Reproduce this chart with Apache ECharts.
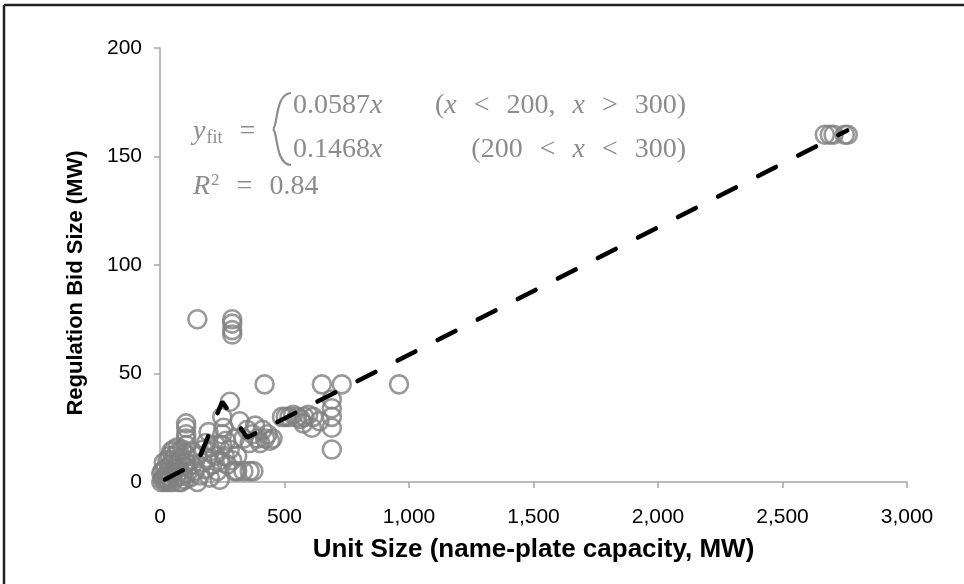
<!DOCTYPE html>
<html>
<head>
<meta charset="utf-8">
<script src="https://cdn.jsdelivr.net/npm/echarts@6/dist/echarts.min.js"></script>
<style>
html,body{margin:0;padding:0;background:#fff;}
#chart{width:964px;height:584px;}
</style>
</head>
<body>
<div id="chart"></div>
<script>
// unit size (MW) per bid
const unitSize = [
    2670, 2690, 2705, 2750, 2762,
    150, 290, 290, 290, 290, 420, 650, 730, 960, 281,
    690, 690, 690, 690, 690, 610,
    490, 505, 520, 535, 550, 565, 580, 595, 615, 640, 575,
    320, 335, 350, 360, 372, 382, 392, 402, 412, 422, 432, 442, 452, 310, 335, 360, 375,
    120, 130, 140, 150, 160, 170, 175, 180, 190, 195, 200, 200, 150, 130, 210, 220, 230,
    240, 240, 250, 250, 250, 255, 260, 270, 280, 290, 300, 300, 310, 265, 225, 185,
    105, 105, 105, 105, 105,
    5, 10, 15, 20, 25, 30, 35, 40, 45, 50, 50, 55, 60, 60, 65, 70, 75, 75, 80,
    85, 90, 95, 100, 100, 105, 110, 20, 30, 40, 10, 70, 90, 45, 15, 5, 35, 85, 55
];
// regulation bid size (MW), same order
const bidSize = [
    160, 160, 160, 160, 160,
    75, 75, 73, 70, 68, 45, 45, 45, 45, 37,
    38, 34, 30, 25, 15, 25,
    30, 30, 30, 31, 30, 29, 30, 31, 30, 28, 27,
    28, 20, 24, 18, 22, 26, 20, 18, 24, 20, 22, 19, 20, 5, 5, 5, 5,
    2, 8, 5, 12, 3, 9, 15, 6, 11, 23, 2, 14, 0, 14, 8, 12, 5,
    10, 1, 30, 22, 17, 25, 12, 8, 15, 10, 5, 20, 12, 19, 17, 18,
    17, 20, 22, 25, 27,
    0, 1, 2, 0, 3, 1, 5, 2, 8, 0, 10, 4, 6, 12, 2, 9, 0, 14, 5,
    11, 3, 7, 1, 13, 9, 4, 6, 10, 12, 5, 16, 15, 14, 9, 4, 0, 0, 15
];
// vertices of the piecewise fit line
const fitX = [20, 150, 250, 350, 2760];
const fitY = [1.2, 8.8, 37, 20.5, 162];

const points = unitSize.map((x, i) => [x, bidSize[i]]);
const fitLine = fitX.map((x, i) => [x, fitY[i]]);

const axisGrey = '#a6a6a6';
const eqGrey = '#8c8c8c';
const serif = 'Liberation Serif';
const eqSize = 28;

// rich styles for the equation: n = upright, i = italic, sp = wide math space
const eqRich = {
    n: { fontFamily: serif, fontSize: eqSize, fill: eqGrey },
    i: { fontFamily: serif, fontStyle: 'italic', fontSize: eqSize, fill: eqGrey },
    sp: { fontFamily: serif, fontSize: eqSize, width: 17 },
    sub: { fontFamily: serif, fontSize: 18, fill: eqGrey, padding: [12, 0, 0, 1] },
    sup: { fontFamily: serif, fontSize: 17, fill: eqGrey, padding: [0, 0, 12, 1] }
};
const braceStyle = { fill: null, stroke: eqGrey, lineWidth: 2.2 };

let chart = echarts.init(document.getElementById('chart'));
let option = {
    backgroundColor: '#fff',
    animation: false,
    grid: {
        left: 160,
        right: 57,
        top: 48,
        bottom: 102
    },
    xAxis: {
        type: 'value',
        min: 0,
        max: 3000,
        interval: 500,
        name: 'Unit Size (name-plate capacity, MW)',
        nameLocation: 'middle',
        nameGap: 55,
        nameTextStyle: {
            color: '#000',
            fontFamily: 'Liberation Sans',
            fontWeight: 'bold',
            fontSize: 26
        },
        axisLine: { show: true, lineStyle: { color: axisGrey, width: 1.5 } },
        axisTick: { show: true, length: 6, lineStyle: { color: axisGrey, width: 1.5 } },
        splitLine: { show: false },
        axisLabel: {
            color: '#000',
            fontFamily: 'Liberation Sans',
            fontSize: 21,
            margin: 25,
            formatter: v => v.toLocaleString('en-US')
        }
    },
    yAxis: {
        type: 'value',
        min: 0,
        max: 200,
        interval: 50,
        name: 'Regulation Bid Size (MW)',
        nameLocation: 'middle',
        nameGap: 73,
        nameTextStyle: {
            color: '#000',
            fontFamily: 'Liberation Sans',
            fontWeight: 'bold',
            fontSize: 22,
            padding: [0, 36, 0, 0]
        },
        axisLine: { show: true, lineStyle: { color: axisGrey, width: 1.5 } },
        axisTick: { show: true, length: 6, lineStyle: { color: axisGrey, width: 1.5 } },
        splitLine: { show: false },
        axisLabel: {
            color: '#000',
            fontFamily: 'Liberation Sans',
            fontSize: 21,
            margin: 18
        }
    },
    series: [
        {
            type: 'scatter',
            data: points,
            symbol: 'circle',
            symbolSize: 18,
            itemStyle: {
                color: 'rgba(0,0,0,0)',
                borderColor: '#7f7f7f',
                borderWidth: 2.6
            },
            z: 2
        },
        {
            type: 'line',
            data: fitLine,
            showSymbol: false,
            lineStyle: {
                color: '#000',
                width: 4.5,
                type: [20, 25],
                cap: 'round'
            },
            z: 3
        }
    ],
    graphic: [
        // outer frame (top and left edges visible)
        { type: 'line', shape: { x1: 4, y1: 5, x2: 964, y2: 5 }, style: { stroke: '#222', lineWidth: 2.5 } },
        { type: 'line', shape: { x1: 4, y1: 5, x2: 4, y2: 584 }, style: { stroke: '#222', lineWidth: 2.5 } },
        // fit equation
        {
            type: 'text', left: 193, top: 118,
            style: { text: '{i|y}{sub|fit}{sp| }{n|=}', rich: eqRich }
        },
        // thin brace joining the two cases
        {
            type: 'bezierCurve',
            shape: { x1: 291, y1: 93, cpx1: 275, cpy1: 94, cpx2: 278, cpy2: 126, x2: 273, y2: 129 },
            style: braceStyle
        },
        {
            type: 'bezierCurve',
            shape: { x1: 273, y1: 129, cpx1: 278, cpy1: 132, cpx2: 275, cpy2: 164, x2: 291, y2: 165 },
            style: braceStyle
        },
        {
            type: 'text', left: 293, top: 92,
            style: { text: '{n|0.0587}{i|x}', rich: eqRich }
        },
        {
            type: 'text', right: 964 - 686, top: 92,
            style: {
                text: '{n|(}{i|x}{sp| }{n|<}{sp| }{n|200,}{sp| }{i|x}{sp| }{n|>}{sp| }{n|300)}',
                rich: eqRich
            }
        },
        {
            type: 'text', left: 293, top: 136,
            style: { text: '{n|0.1468}{i|x}', rich: eqRich }
        },
        {
            type: 'text', right: 964 - 686, top: 136,
            style: {
                text: '{n|(200}{sp| }{n|<}{sp| }{i|x}{sp| }{n|<}{sp| }{n|300)}',
                rich: eqRich
            }
        },
        {
            type: 'text', left: 193, top: 172,
            style: { text: '{i|R}{sup|2}{sp| }{n|=}{sp| }{n|0.84}', rich: eqRich }
        }
    ]
};
chart.setOption(option);
window.onresize = function () {
    chart.resize();
};
</script>
</body>
</html>
